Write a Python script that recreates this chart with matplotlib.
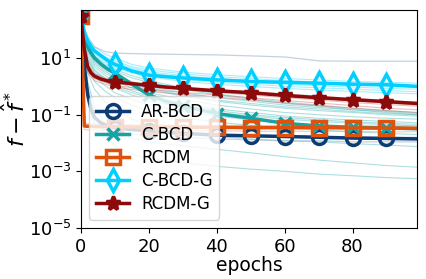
import matplotlib
matplotlib.use('Agg')
import matplotlib.pyplot as plt

ep = [0, 1, 2, 3, 4, 6, 8, 10, 15, 20, 25, 30, 40, 50, 60, 70, 80, 90, 99]

ar_bcd = [300, 5, 0.5, 0.15, 0.08, 0.05, 0.04, 0.035, 0.03, 0.027, 0.024, 0.022,
          0.019, 0.018, 0.017, 0.016, 0.015, 0.0145, 0.014]
c_bcd = [300, 50, 25, 15, 10, 6, 4, 3, 1.2, 0.5, 0.3, 0.2,
         0.11, 0.075, 0.05, 0.04, 0.036, 0.034, 0.032]
rcdm = [300, 0.04, 0.039, 0.039, 0.038, 0.038, 0.038, 0.038, 0.037, 0.037, 0.037, 0.036,
        0.036, 0.035, 0.035, 0.035, 0.034, 0.034, 0.033]
c_bcd_g = [300, 80, 40, 25, 18, 12, 8, 6, 3.5, 2.5, 2.2, 2.0,
           1.7, 1.5, 1.4, 1.3, 1.2, 1.15, 1.0]
rcdm_g = [300, 20, 5, 3, 2.3, 1.8, 1.55, 1.45, 1.25, 1.1, 0.95, 0.85,
          0.7, 0.6, 0.48, 0.4, 0.34, 0.29, 0.25]

# individual runs (thin lines)
bg_ep = [0, 1, 2, 4, 7, 10, 15, 20, 30, 40, 50, 60, 70, 80, 90, 99]

runs_c_bcd = [
    [300, 70, 30, 12, 6, 4, 2.4, 1.6, 0.9, 0.55, 0.38, 0.28, 0.22, 0.17, 0.14, 0.12],
    [300, 60, 25, 10, 5, 3.5, 2, 1.4, 0.8, 0.5, 0.35, 0.25, 0.2, 0.15, 0.12, 0.1],
    [300, 50, 20, 8, 4, 2.5, 1.5, 1.0, 0.6, 0.4, 0.3, 0.22, 0.18, 0.15, 0.13, 0.11],
    [300, 45, 18, 7, 3.5, 2.2, 1.3, 0.9, 0.5, 0.33, 0.25, 0.19, 0.16, 0.13, 0.11, 0.1],
    [300, 40, 15, 6, 3, 2, 1.2, 0.8, 0.45, 0.3, 0.22, 0.17, 0.14, 0.12, 0.1, 0.09],
    [300, 35, 12, 5, 2.5, 1.5, 0.9, 0.6, 0.35, 0.22, 0.16, 0.12, 0.1, 0.085, 0.075, 0.07],
    [300, 30, 10, 4, 2, 1.2, 0.7, 0.45, 0.25, 0.16, 0.12, 0.09, 0.075, 0.065, 0.058, 0.052],
    [300, 28, 9, 3.5, 1.8, 1.0, 0.6, 0.4, 0.22, 0.14, 0.1, 0.08, 0.066, 0.056, 0.05, 0.046],
    [300, 25, 8, 3, 1.5, 0.9, 0.5, 0.32, 0.18, 0.12, 0.09, 0.07, 0.058, 0.05, 0.045, 0.04],
    [300, 20, 6, 2.2, 1.1, 0.6, 0.35, 0.22, 0.13, 0.09, 0.065, 0.05, 0.042, 0.036, 0.032, 0.03],
    [300, 15, 4, 1.5, 0.7, 0.4, 0.22, 0.14, 0.08, 0.055, 0.042, 0.034, 0.029, 0.025, 0.022, 0.02],
    [300, 12, 3, 0.8, 0.3, 0.15, 0.07, 0.045, 0.025, 0.017, 0.014, 0.012, 0.011, 0.0095, 0.0085, 0.0075],
    [300, 12, 1.5, 0.2, 0.05, 0.025, 0.015, 0.011, 0.008, 0.006, 0.0045, 0.0033, 0.0025, 0.002, 0.0016, 0.0014],
    [300, 10, 1.0, 0.1, 0.02, 0.008, 0.004, 0.0028, 0.002, 0.0015, 0.0012, 0.001, 0.0008, 0.0007, 0.0006, 0.00055],
]
runs_c_bcd_g = [
    [300, 120, 60, 25, 14, 10, 6, 4.5, 3.2, 2.6, 2.2, 1.9, 1.7, 1.5, 1.4, 1.3],
    [300, 100, 50, 20, 11, 8, 5, 3.8, 2.8, 2.2, 1.9, 1.6, 1.45, 1.3, 1.2, 1.1],
    [300, 90, 45, 18, 10, 7, 4.5, 3.3, 2.4, 1.9, 1.6, 1.4, 1.25, 1.1, 1.0, 0.95],
    [300, 80, 40, 16, 9, 6, 4, 3, 2.1, 1.7, 1.4, 1.2, 1.05, 0.95, 0.85, 0.8],
    [300, 70, 35, 14, 8, 5, 3.5, 2.6, 1.8, 1.4, 1.2, 1.0, 0.9, 0.8, 0.72, 0.65],
    [300, 60, 30, 12, 7, 4.5, 3, 2.2, 1.5, 1.2, 1.0, 0.85, 0.75, 0.67, 0.6, 0.55],
]
runs_rcdm_g = [
    [300, 15, 4, 2.2, 1.6, 1.3, 1.1, 0.95, 0.78, 0.62, 0.5, 0.4, 0.33, 0.27, 0.23, 0.2],
    [300, 12, 3.5, 1.9, 1.4, 1.1, 0.9, 0.78, 0.62, 0.5, 0.4, 0.32, 0.26, 0.21, 0.17, 0.15],
    [300, 10, 3, 1.6, 1.2, 0.95, 0.78, 0.66, 0.52, 0.42, 0.33, 0.26, 0.21, 0.17, 0.14, 0.12],
    [300, 25, 6, 2.8, 2.0, 1.6, 1.35, 1.15, 0.95, 0.78, 0.65, 0.55, 0.45, 0.38, 0.32, 0.28],
    [300, 18, 4.5, 2.4, 1.8, 1.45, 1.2, 1.0, 0.85, 0.7, 0.57, 0.46, 0.38, 0.31, 0.26, 0.22],
]
runs_rcdm = [
    [300, 0.05, 0.048, 0.047, 0.046, 0.045, 0.045, 0.044, 0.043, 0.042, 0.042, 0.041, 0.041, 0.04, 0.04, 0.04],
    [300, 0.03, 0.029, 0.029, 0.028, 0.028, 0.028, 0.027, 0.027, 0.027, 0.026, 0.026, 0.026, 0.026, 0.025, 0.025],
]
runs_ar_bcd = [
    [300, 100, 50, 25, 17, 15, 14.5, 14, 13.5, 13, 12, 11, 8, 7.8, 7.8, 7.8],
    [300, 4, 0.3, 0.05, 0.03, 0.025, 0.021, 0.019, 0.016, 0.014, 0.013, 0.012, 0.012, 0.011, 0.011, 0.011],
    [300, 6, 0.6, 0.08, 0.04, 0.033, 0.028, 0.025, 0.022, 0.02, 0.019, 0.018, 0.017, 0.017, 0.016, 0.016],
]

labels = ['AR-BCD', 'C-BCD', 'RCDM', 'C-BCD-G', 'RCDM-G']
colors = ['#0b3c73', '#17a3a3', '#e0520b', '#00cfff', '#8c0a0a']
markers = ['o', 'x', 's', 'd', '*']

fig = plt.figure(figsize=(4.26, 2.79), dpi=100)
ax = fig.add_axes([0.19, 0.183, 0.789, 0.781])

# thin lines for individual runs
for r in runs_c_bcd:
    ax.plot(bg_ep, r, color=colors[1], alpha=0.35, lw=0.8)
for r in runs_c_bcd_g:
    ax.plot(bg_ep, r, color=colors[3], alpha=0.35, lw=0.8)
for r in runs_rcdm_g:
    ax.plot(bg_ep, r, color='#c84040', alpha=0.35, lw=0.8)
for r in runs_rcdm:
    ax.plot(bg_ep, r, color=colors[2], alpha=0.3, lw=0.8)
for r in runs_ar_bcd:
    ax.plot(bg_ep, r, color='#8aa4c4', alpha=0.5, lw=0.9)

mark_idx = [i for i, e in enumerate(ep) if e % 10 == 0]
series = [ar_bcd, c_bcd, rcdm, c_bcd_g, rcdm_g]
sizes = [10, 9, 10, 11, 10]
for s, lab, c, m, ms in zip(series, labels, colors, markers, sizes):
    ax.plot(ep, s, color=c, lw=2.5, marker=m, markevery=mark_idx, ms=ms,
            mew=2.5, fillstyle='none' if m in 'osd' else 'full', label=lab)

ax.set_yscale('log')
ax.set_ylim(1e-5, 5e2)
ax.set_xlim(0, 99)
ax.set_yticks([1e-5, 1e-3, 1e-1, 1e1])
ax.minorticks_off()
ax.set_xticks([0, 20, 40, 60, 80])
ax.tick_params(labelsize=13)
ax.set_xlabel('epochs', fontsize=13.5, labelpad=0)
ax.set_ylabel(r'$f-\hat{f}^*$', fontsize=16)
ax.yaxis.set_label_coords(-0.155, 0.5)
ax.legend(loc='lower left', fontsize=12, borderpad=0.4, labelspacing=0.3,
          handletextpad=0.7)

fig.savefig('out.png', dpi=100)
